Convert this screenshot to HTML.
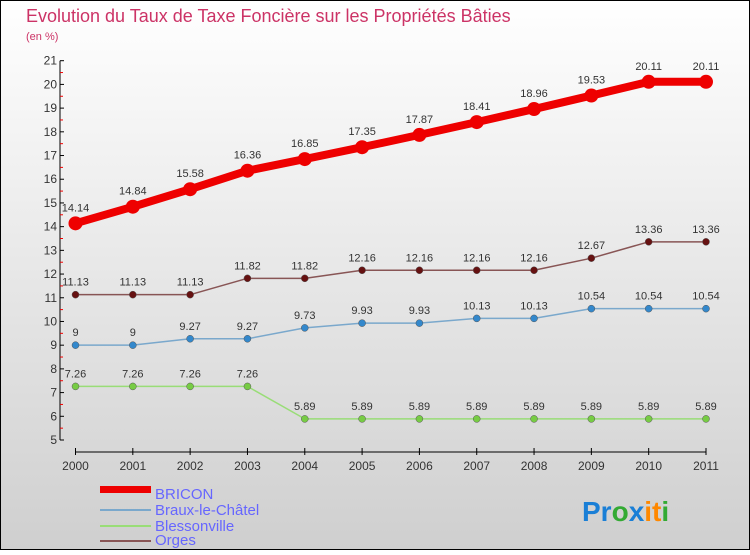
<!DOCTYPE html>
<html><head><meta charset="utf-8"><style>
body{margin:0;}
svg text{font-family:"Liberation Sans",sans-serif;}
</style></head><body>
<svg width="750" height="550" xmlns="http://www.w3.org/2000/svg">
<defs><linearGradient id="bg" x1="0" y1="0" x2="0" y2="1"><stop offset="0" stop-color="#ffffff"/><stop offset="1" stop-color="#cfcfcf"/></linearGradient></defs>
<rect x="0.5" y="0.5" width="749" height="549" fill="url(#bg)" stroke="#000"/>
<text x="26" y="22" font-size="18" fill="#cc3366">Evolution du Taux de Taxe Foncière sur les Propriétés Bâties</text>
<text x="26" y="40" font-size="11" fill="#cc3366">(en %)</text>
<g id="axes"></g><g id="series"></g>
<g>
<rect x="100" y="486" width="51" height="7" fill="#ee0000"/>
<line x1="100" y1="510" x2="151" y2="510" stroke="#7aa8cc" stroke-width="2"/>
<line x1="100" y1="526" x2="151" y2="526" stroke="#99dd77" stroke-width="2"/>
<line x1="100" y1="541" x2="151" y2="541" stroke="#885555" stroke-width="2"/>
<text x="155" y="499" font-size="15" fill="#6666ff">BRICON</text>
<text x="155" y="515" font-size="15" fill="#6666ff">Braux-le-Châtel</text>
<text x="155" y="531" font-size="15" fill="#6666ff">Blessonville</text>
<text x="155" y="545" font-size="15" fill="#6666ff">Orges</text>
</g>
<text x="582" y="521" font-size="28" font-weight="bold"><tspan fill="#1a7fd6">Pr</tspan><tspan fill="#33aa33">o</tspan><tspan fill="#1a7fd6">x</tspan><tspan fill="#ff8800">it</tspan><tspan fill="#33aa33">i</tspan></text>
</svg>
<script>
const years=["2000","2001","2002","2003","2004","2005","2006","2007","2008","2009","2010","2011"];
const bricon=[14.14,14.84,15.58,16.36,16.85,17.35,17.87,18.41,18.96,19.53,20.11,20.11];
const braux=[9,9,9.27,9.27,9.73,9.93,9.93,10.13,10.13,10.54,10.54,10.54];
const bless=[7.26,7.26,7.26,7.26,5.89,5.89,5.89,5.89,5.89,5.89,5.89,5.89];
const orges=[11.13,11.13,11.13,11.82,11.82,12.16,12.16,12.16,12.16,12.67,13.36,13.36];
const yTicks=[5,6,7,8,9,10,11,12,13,14,15,16,17,18,19,20,21];
const NS="http://www.w3.org/2000/svg";
const X=i=>75.5+i*(706-75.5)/11;
const Y=v=>440-(v-5)*(440-60.7)/16;
function mk(t,a,p){const e=document.createElementNS(NS,t);for(const k in a)e.setAttribute(k,a[k]);p.appendChild(e);return e;}
const ax=document.getElementById('axes');
const yl=mk('line',{x1:60,y1:Y(21),x2:60,y2:Y(5),stroke:'#000'},ax);


yTicks.forEach(v=>{
 mk('line',{x1:60,y1:Y(v),x2:64,y2:Y(v),stroke:'#000'},ax);
 if(v<21)mk('line',{x1:60,y1:Y(v+0.5),x2:63,y2:Y(v+0.5),stroke:'#e00'},ax);
 const t=mk('text',{x:57,y:Y(v)+4,'font-size':12,fill:'#333','text-anchor':'end'},ax);t.textContent=v;
 
 
});
const xl=mk('line',{x1:X(0),y1:452,x2:X(11),y2:452,stroke:'#000'},ax);


years.forEach((y,i)=>{
 mk('line',{x1:X(i),y1:448,x2:X(i),y2:455,stroke:'#000'},ax);
 const t=mk('text',{x:X(i),y:470,'font-size':12,fill:'#333','text-anchor':'middle'},ax);t.textContent=y;
 
 
});
const sg=document.getElementById('series');
function series(vals,name,color,w,r,fill,dy){
 const g=mk('g',{},sg);
 
 
 mk('polyline',{points:vals.map((v,i)=>X(i)+','+Y(v)).join(' '),fill:'none',stroke:color,'stroke-width':w,'stroke-linejoin':'round'},g);
 vals.forEach((v,i)=>{
  const c=mk('circle',{cx:X(i),cy:Y(v),r:r,fill:fill,stroke:r>5?'none':'#555','stroke-width':0.5},g);
  
  
  const t=mk('text',{x:X(i),y:Y(v)-dy,'font-size':11,fill:'#333','text-anchor':'middle'},g);t.textContent=v;
  
  
 });
}
series(bless,'blessonville','#99dd77',1.5,3.5,'#77cc44',9);
series(braux,'braux','#7aa8cc',1.5,3.5,'#3388cc',9);
series(orges,'orges','#885555',1.5,3.5,'#661111',9);
series(bricon,'bricon','#ee0000',8,7,'#ee0000',12);
</script>
</body></html>
